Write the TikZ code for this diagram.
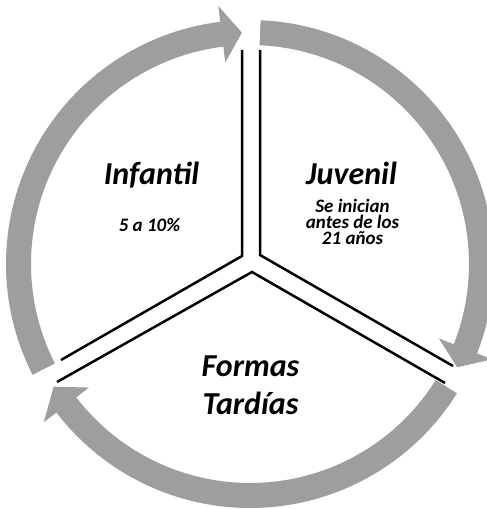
\documentclass[tikz,border=0pt]{standalone}
\usepackage{fontspec}
\setmainfont{Carlito}
\definecolor{arrowgray}{RGB}{158,158,158}
\tikzset{
  arrowfill/.style={fill=arrowgray},
  divider/.style={draw=black, line width=2.5pt},
  bigtext/.style={font=\fontsize{32}{38}\selectfont\bfseries\itshape, inner sep=0pt, align=center},
  smalltext/.style={font=\fontsize{19}{16}\selectfont\bfseries\itshape, inner sep=0pt, align=center}
}
\newcommand\grayarcarrow[3]{%
  \fill[arrowfill, shift={(250,245)}]
    (#1:244pt) arc[start angle=#1, end angle=#2, radius=244pt]
    -- (#2:260pt) -- (#3:231.5pt) -- (#2:203pt) -- (#2:219pt)
    arc[start angle=#2, end angle=#1, radius=219pt] -- cycle;}
\begin{document}
\begin{tikzpicture}[x=1pt, y=1pt]
\useasboundingbox (0,0) rectangle (487,509);
\fill[white] (0,0) rectangle (487,509);
% gray circular arrows
\grayarcarrow{207}{97}{92}
\grayarcarrow{87.5}{-21.5}{-26.5}
\grayarcarrow{328}{217.5}{212}
% divider coordinates
\coordinate (tlv) at (242,253);
\coordinate (tlt) at (242,459);
\coordinate (tll) at (61,149);
\coordinate (trv) at (260,254);
\coordinate (trt) at (260,459);
\coordinate (trr) at (453,143);
\coordinate (bv)  at (252,237);
\coordinate (bl)  at (57,127);
\coordinate (br)  at (445,126);
\draw[divider] (tlt) -- (tlv) -- (tll);
\draw[divider] (trt) -- (trv) -- (trr);
\draw[divider] (bl) -- (bv) -- (br);
% texts
\node[bigtext, anchor=base] (inf) at (151.5,324) {Infantil};
\node[smalltext, anchor=base] (infp) at (149.5,277) {5 a 10\%};
\node[bigtext, anchor=base] (juv) at (351.5,324) {Juvenil};
\node[smalltext, anchor=center] (juvs) at (352.5,287) {Se inician\\antes de los\\21 años};
\node[bigtext, anchor=center] (form) at (250.5,124) {Formas\\Tardías};
\end{tikzpicture}
\end{document}
